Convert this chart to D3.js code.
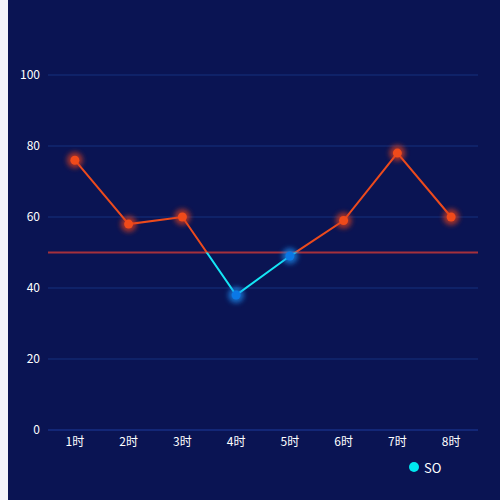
<!DOCTYPE html>
<html>
<head>
<meta charset="utf-8">
<script src="https://cdn.jsdelivr.net/npm/d3@7"></script>
<style>
  body { margin: 0; background: #f3f4f9; }
  text { font-family: "Noto Sans CJK SC", "Noto Sans", sans-serif; }
</style>
</head>
<body>
<svg id="chart" width="500" height="500"></svg>
<script>
const hours = ['1时', '2时', '3时', '4时', '5时', '6时', '7时', '8时']
const soValues = [76, 58, 60, 38, 49, 59, 78, 60]
const yTicks = [0, 20, 40, 60, 80, 100]
const threshold = 50
const seriesName = 'SO'

const margin = { top: 75, right: 22, bottom: 70, left: 48 }
const width = 500 - margin.left - margin.right
const height = 500 - margin.top - margin.bottom

const highColor = '#ec4a1c'
const lowColor = '#14e6f5'

const svg = d3.select('#chart')

// background
svg.append('rect')
  .attr('x', 8).attr('y', 0)
  .attr('width', 492).attr('height', 500)
  .attr('fill', '#0a1453')

const defs = svg.append('defs')
const glow = defs.append('filter').attr('id', 'glow')
  .attr('x', '-100%').attr('y', '-100%').attr('width', '300%').attr('height', '300%')
glow.append('feGaussianBlur').attr('stdDeviation', 2.5)

const g = svg.append('g').attr('transform', `translate(${margin.left},${margin.top})`)

const xScale = d3.scaleBand().domain(hours).range([0, width])
const yScale = d3.scaleLinear().domain([0, 100]).range([height, 0])

// grid lines
g.selectAll('.grid')
  .data(yTicks)
  .enter()
  .append('line')
  .attr('x1', 0).attr('x2', width)
  .attr('y1', d => yScale(d)).attr('y2', d => yScale(d))
  .attr('stroke', d => d === 0 ? '#1d3a9c' : '#15307e')
  .attr('stroke-width', 1)

// y axis labels
const yAxis = d3.axisLeft(yScale).tickValues(yTicks).tickSize(0).tickPadding(8)
const yg = g.append('g').call(yAxis)
yg.select('.domain').remove()
yg.selectAll('text').attr('fill', '#ffffff').style('font-size', '12px')

// x axis labels
const xAxis = d3.axisBottom(xScale).tickSize(0).tickPadding(7)
const xg = g.append('g').attr('transform', `translate(0,${height})`).call(xAxis)
xg.select('.domain').remove()
xg.selectAll('text').attr('fill', '#ffffff').style('font-size', '12px')

// threshold line
g.append('line')
  .attr('x1', 0).attr('x2', width)
  .attr('y1', yScale(threshold)).attr('y2', yScale(threshold))
  .attr('stroke', '#a5303c')
  .attr('stroke-width', 2)

// gradient splitting the line at the threshold (in g's user space)
const yt = yScale(threshold)
const grad = defs.append('linearGradient')
  .attr('id', 'split')
  .attr('gradientUnits', 'userSpaceOnUse')
  .attr('x1', 0).attr('x2', 0)
  .attr('y1', yt - 0.01).attr('y2', yt + 0.01)
grad.append('stop').attr('offset', 0).attr('stop-color', highColor)
grad.append('stop').attr('offset', 1).attr('stop-color', lowColor)

const data = hours.map((h, i) => ({ hour: h, value: soValues[i] }))
const cx = d => xScale(d.hour) + xScale.bandwidth() / 2

const line = d3.line().x(cx).y(d => yScale(d.value))
g.append('path')
  .datum(data)
  .attr('d', line)
  .attr('fill', 'none')
  .attr('stroke', 'url(#split)')
  .attr('stroke-width', 2)

// points with glow
const pts = g.selectAll('.pt').data(data).enter().append('g')
  .attr('transform', d => `translate(${cx(d)},${yScale(d.value)})`)
pts.append('circle')
  .attr('r', 8)
  .attr('fill', d => d.value >= threshold ? '#e0401c' : '#1a8cf0')
  .attr('opacity', 0.7)
  .attr('filter', 'url(#glow)')
pts.append('circle')
  .attr('r', 4.5)
  .attr('fill', d => d.value >= threshold ? '#f04a1a' : '#0a78e6')

// legend
const lg = svg.append('g').attr('transform', 'translate(414,467)')
lg.append('circle').attr('r', 5).attr('fill', '#00e8f0')
lg.append('text')
  .attr('x', 10).attr('y', 0)
  .attr('dominant-baseline', 'central')
  .attr('fill', '#ffffff')
  .style('font-size', '13px')
  .text(seriesName)
</script>
</body>
</html>
